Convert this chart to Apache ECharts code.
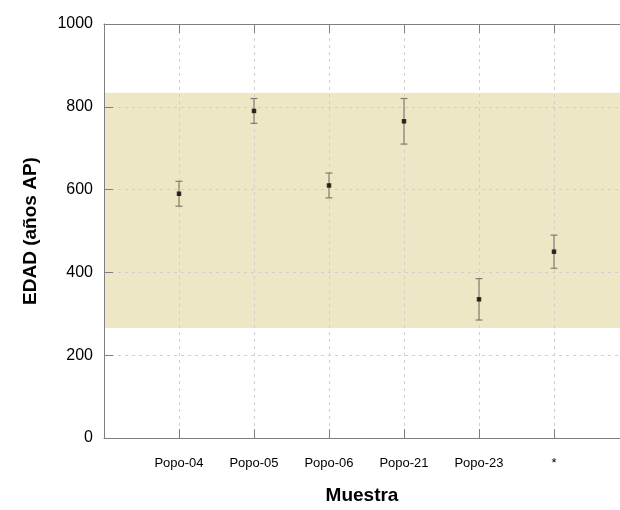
<!DOCTYPE html>
<html>
<head>
<meta charset="utf-8">
<script src="https://cdn.jsdelivr.net/npm/echarts@6/dist/echarts.min.js"></script>
<style>html,body{margin:0;padding:0;background:#fff;}#c{width:620px;height:510px;}</style>
</head>
<body>
<div id="c"></div>
<script>
var categories = ['Popo-04', 'Popo-05', 'Popo-06', 'Popo-21', 'Popo-23', '*'];
var ages = [590, 790, 610, 765, 335, 450];
var lowErr = [560, 760, 580, 710, 285, 410];
var highErr = [620, 820, 640, 820, 385, 490];
var bandRange = [266, 834];
var yTicks = [0, 200, 400, 600, 800, 1000];
var xMax = 6.88;

var chart = echarts.init(document.getElementById('c'), null, {renderer: 'canvas'});
var font = 'Liberation Sans, Arial, sans-serif';
var pts = categories.map(function (c, i) { return [i + 1, ages[i]]; });
var errs = categories.map(function (c, i) { return [i + 1, lowErr[i], highErr[i]]; });
var axisColor = '#7f7f7f';
var gridLine = {show: true, lineStyle: {color: '#cfcfcf', type: [3, 4], width: 1}};
function isInt(v) { return Math.abs(v - Math.round(v)) < 1e-6; }

chart.setOption({
  animation: false,
  grid: {left: 104, top: 24, right: 0, height: 417, containLabel: false},
  xAxis: [{
    type: 'value', min: 0, max: xMax, interval: 1,
    position: 'bottom',
    name: 'Muestra', nameLocation: 'middle', nameGap: 48,
    nameTextStyle: {fontFamily: font, fontSize: 19, fontWeight: 'bold', color: '#000'},
    axisLine: {show: true, lineStyle: {color: axisColor, width: 1}},
    axisTick: {show: true, inside: true, length: 9, lineStyle: {color: axisColor}},
    axisLabel: {
      margin: 19, fontFamily: font, fontSize: 13, color: '#000', showMaxLabel: false,
      formatter: function (v) { return isInt(v) ? (categories[Math.round(v) - 1] || '') : ''; }
    },
    splitLine: gridLine
  }, {
    type: 'value', min: 0, max: xMax, interval: 1,
    position: 'top',
    axisLine: {show: true, lineStyle: {color: axisColor, width: 1}},
    axisTick: {show: true, inside: true, length: 9, lineStyle: {color: axisColor}},
    axisLabel: {show: false},
    splitLine: {show: false}
  }],
  yAxis: {
    type: 'value', min: yTicks[0], max: yTicks[yTicks.length - 1], interval: 200,
    name: 'EDAD (años AP)', nameLocation: 'middle', nameGap: 64, nameRotate: 90,
    nameTextStyle: {fontFamily: font, fontSize: 19, fontWeight: 'bold', color: '#000'},
    axisLine: {show: true, lineStyle: {color: axisColor, width: 1}},
    axisTick: {show: true, inside: true, length: 9, lineStyle: {color: axisColor}},
    axisLabel: {margin: 11, fontFamily: font, fontSize: 16, color: '#000',
      formatter: function (v) { return String(v); }},
    splitLine: gridLine
  },
  series: [{
    type: 'custom', data: [[0, bandRange[0], bandRange[1]]], silent: true, z: -5,
    clip: true,
    renderItem: function (params, api) {
      var cs = params.coordSys;
      var lo = api.coord([0, api.value(1)]);
      var hi = api.coord([0, api.value(2)]);
      return {type: 'rect', shape: {x: cs.x, y: hi[1], width: cs.width, height: lo[1] - hi[1]},
        style: {fill: '#eee7c6'}};
    }
  }, {
    type: 'custom', data: errs, z: 3,
    renderItem: function (params, api) {
      var x = api.value(0);
      var lo = api.coord([x, api.value(1)]);
      var hi = api.coord([x, api.value(2)]);
      var w = 3.5;
      var st = {stroke: '#857c6c', lineWidth: 1.2};
      return {type: 'group', children: [
        {type: 'line', shape: {x1: lo[0], y1: lo[1], x2: hi[0], y2: hi[1]}, style: st},
        {type: 'line', shape: {x1: lo[0] - w, y1: lo[1], x2: lo[0] + w, y2: lo[1]}, style: st},
        {type: 'line', shape: {x1: hi[0] - w, y1: hi[1], x2: hi[0] + w, y2: hi[1]}, style: st}
      ]};
    }
  }, {
    type: 'scatter', data: pts, z: 4,
    symbol: 'rect', symbolSize: 4.5,
    itemStyle: {color: '#000'}
  }]
});
</script>
</body>
</html>
